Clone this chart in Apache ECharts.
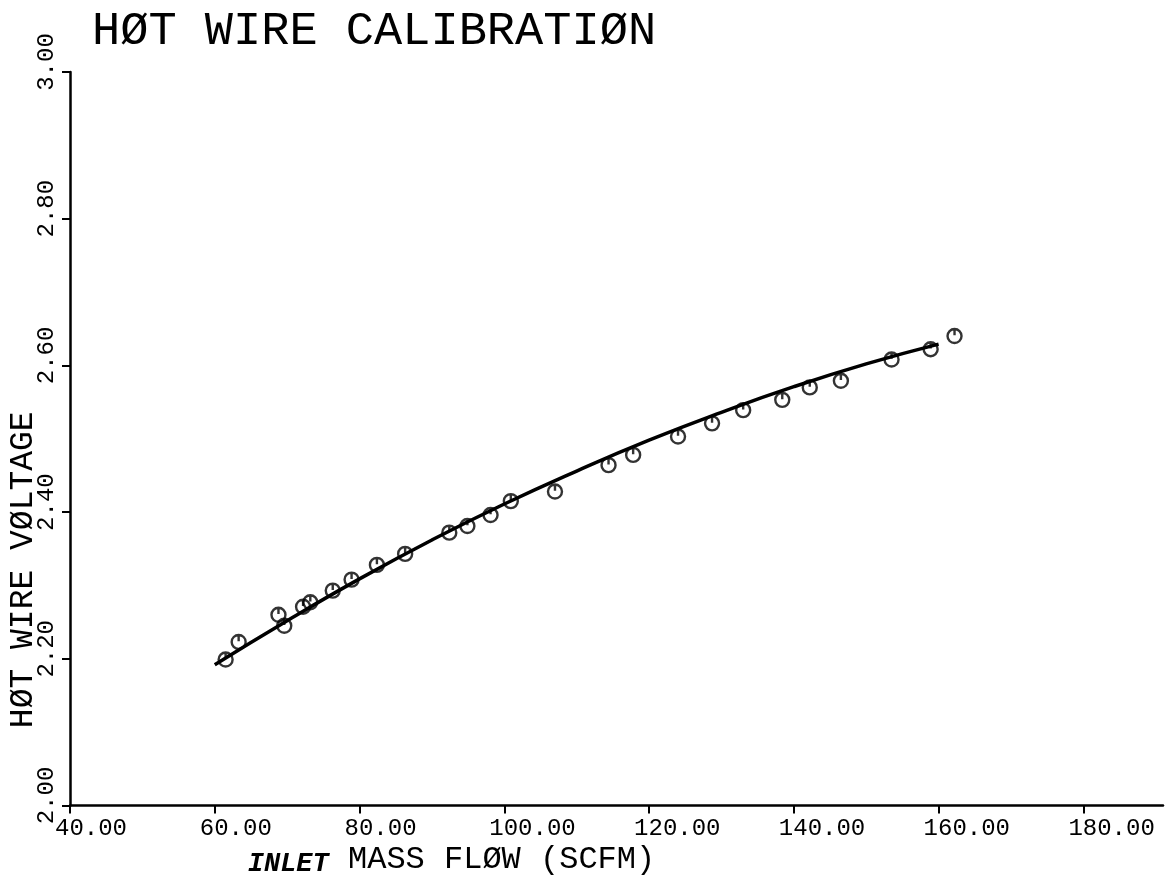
<!DOCTYPE html>
<html>
<head>
<meta charset="utf-8">
<script src="https://cdn.jsdelivr.net/npm/echarts@6/dist/echarts.min.js"></script>
<style>
html,body{margin:0;padding:0;background:#fff;}
#chart{width:1171px;height:880px;}
</style>
</head>
<body>
<div id="chart"></div>
<script>
// ---- data ----
const titleText = 'HØT WIRE CALIBRATIØN';
const xName = 'MASS FLØW (SCFM)';
const xNamePrefix = 'INLET';
const yName = 'HØT WIRE VØLTAGE';

const xTicks = [40, 60, 80, 100, 120, 140, 160, 180];
const yTicks = [2.0, 2.2, 2.4, 2.6, 2.8, 3.0];

// measured calibration points
const flowPoints = [61.5, 63.3, 68.8, 69.6, 72.2, 73.2, 76.3, 78.9, 82.4, 86.3,
                    92.4, 94.9, 98.1, 100.9, 107.0, 114.4, 117.8, 124.0, 128.7, 133.0,
                    138.4, 142.2, 146.5, 153.5, 158.9, 162.2];
const voltagePoints = [2.199, 2.223, 2.260, 2.245, 2.271, 2.277, 2.293, 2.308, 2.328, 2.343,
                       2.372, 2.381, 2.396, 2.415, 2.428, 2.464, 2.478, 2.503, 2.521, 2.539,
                       2.553, 2.570, 2.579, 2.608, 2.622, 2.640];

// fitted calibration curve
const fitFlow = [60, 70, 80, 90, 100, 110, 120, 130, 140, 150, 160];
const fitVoltage = [2.192, 2.252, 2.309, 2.362, 2.411, 2.456, 2.498, 2.536, 2.571, 2.602, 2.629];

const chart = echarts.init(document.getElementById('chart'), null, {renderer: 'canvas'});
const MONO = '"Liberation Mono", "DejaVu Sans Mono", monospace';

const markerPath = 'path://M10,0 A10,10 0 1,1 10,20 A10,10 0 1,1 10,0 Z M10,0 L10,9';

chart.setOption({
  animation: false,
  backgroundColor: '#ffffff',
  title: {
    text: titleText,
    left: 92,
    top: 8,
    padding: 0,
    textStyle: {fontFamily: MONO, fontSize: 47, fontWeight: 'normal', color: '#000'}
  },
  grid: {left: 70, top: 72, right: 8, bottom: 74.5, containLabel: false, outerBoundsMode: 'none'},
  xAxis: {
    type: 'value',
    min: 40,
    max: 191,
    name: '{h|' + xNamePrefix + '}{n| ' + xName + '}',
    nameLocation: 'middle',
    nameGap: 37,
    nameMoveOverlap: false,
    nameTextStyle: {
      align: 'center',
      padding: [0, 330, 0, 0],
      rich: {
        h: {fontFamily: MONO, fontSize: 27, fontWeight: 'bold', fontStyle: 'italic', color: '#000', padding: [8, 0, 0, 0]},
        n: {fontFamily: MONO, fontSize: 32, color: '#000'}
      }
    },
    axisLine: {show: true, onZero: false, lineStyle: {color: '#000', width: 2.5}},
    axisTick: {show: true, inside: false, length: 8, customValues: xTicks, lineStyle: {color: '#000', width: 2}},
    axisLabel: {
      customValues: xTicks,
      formatter: v => v.toFixed(2),
      fontFamily: MONO, fontSize: 24, color: '#000',
      margin: 11,
      align: 'left',
      padding: [0, 0, 0, -15]
    },
    splitLine: {show: false}
  },
  yAxis: {
    type: 'value',
    min: 2,
    max: 3,
    name: yName,
    nameLocation: 'middle',
    nameRotate: 90,
    nameGap: 30,
    nameMoveOverlap: false,
    nameTextStyle: {
      fontFamily: MONO, fontSize: 33, color: '#000',
      align: 'center', verticalAlign: 'bottom',
      padding: [0, 262, 0, 0]
    },
    axisLine: {show: true, onZero: false, lineStyle: {color: '#000', width: 2.5}},
    axisTick: {show: true, inside: false, length: 8, customValues: yTicks, lineStyle: {color: '#000', width: 2}},
    axisLabel: {
      customValues: yTicks,
      formatter: v => v.toFixed(2),
      rotate: 90,
      fontFamily: MONO, fontSize: 24, color: '#000',
      margin: 11,
      align: 'center',
      verticalAlign: 'bottom',
      padding: [0, 0, 0, 20]
    },
    splitLine: {show: false}
  },
  series: [
    {
      type: 'scatter',
      data: flowPoints.map((x, i) => [x, voltagePoints[i]]),
      symbol: markerPath,
      symbolSize: 14,
      itemStyle: {color: 'rgba(0,0,0,0)', borderColor: '#000', borderWidth: 2.4},
      z: 2
    },
    {
      type: 'line',
      data: fitFlow.map((x, i) => [x, fitVoltage[i]]),
      smooth: true,
      showSymbol: false,
      lineStyle: {color: '#000', width: 3.5},
      z: 3
    }
  ]
});
</script>
</body>
</html>
